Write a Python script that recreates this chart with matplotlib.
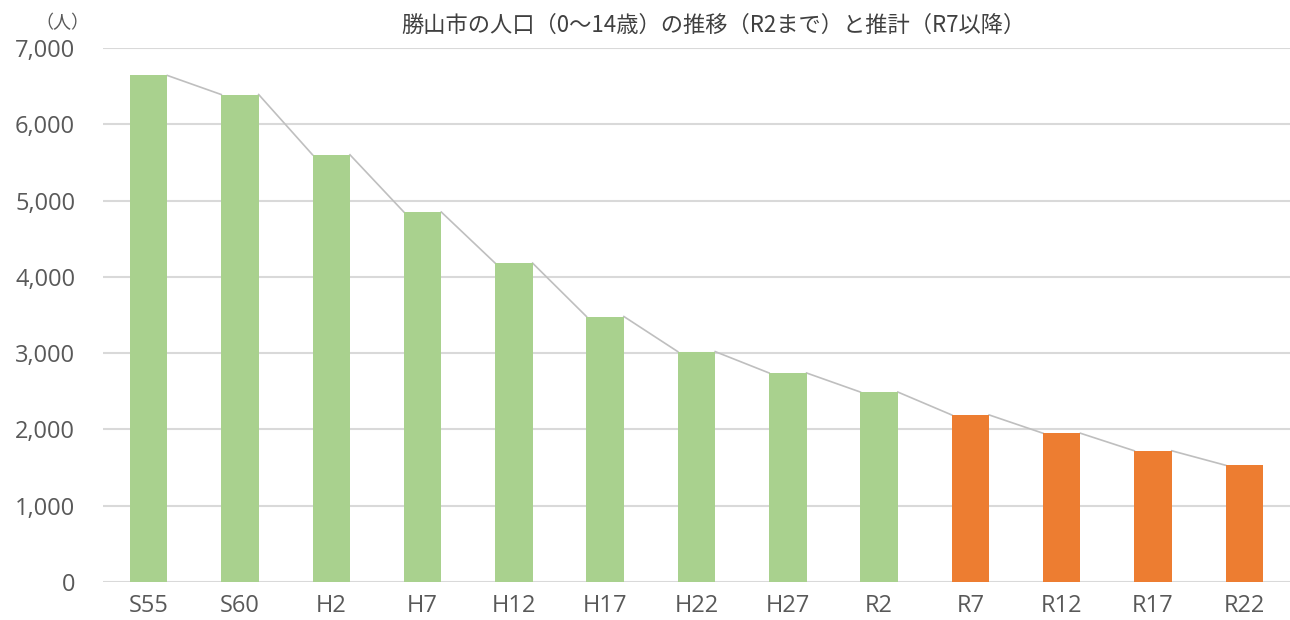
import matplotlib
matplotlib.use('Agg')
import matplotlib.pyplot as plt
import numpy as np

# 日本語フォント
plt.rcParams['font.family'] = ['Noto Sans CJK JP', 'DejaVu Sans']

# データ
years = ["S55", "S60", "H2", "H7", "H12", "H17", "H22", "H27", "R2",
         "R7", "R12", "R17", "R22"]
population = [6640, 6390, 5600, 4850, 4180, 3480, 3020, 2740, 2490,
              2190, 1950, 1720, 1530]
is_estimate = [False] * 9 + [True] * 4

green = '#A9D18E'
orange = '#ED7D31'
text_color = '#595959'
bar_w = 0.41

fig = plt.figure(figsize=(12.9, 6.2), dpi=100)
ax = fig.add_axes([103 / 1290, 1 - 582 / 620, (1290 - 103) / 1290, (582 - 48) / 620])

x = np.arange(len(years))
colors = [orange if e else green for e in is_estimate]
ax.bar(x, population, width=bar_w, color=colors, zorder=3)

# 棒の上端をつなぐ区分線
for i in range(len(x) - 1):
    ax.plot([x[i] + bar_w / 2, x[i + 1] - bar_w / 2],
            [population[i], population[i + 1]],
            color='#BFBFBF', linewidth=1.2, zorder=2)

ax.set_xlim(-0.5, len(years) - 0.5)
ax.set_ylim(0, 7000)
ax.set_yticks(range(0, 7001, 1000))
ax.set_yticklabels([f"{v:,}" for v in range(0, 7001, 1000)])
ax.set_xticks(x)
ax.set_xticklabels(years)
ax.grid(axis='y', color='#D9D9D9', linewidth=1.5, zorder=0)
ax.set_axisbelow(True)
for s in ax.spines.values():
    s.set_visible(False)
ax.tick_params(axis='both', length=0, labelsize=17, colors=text_color)
ax.tick_params(axis='y', pad=20)
ax.tick_params(axis='x', pad=9)
for lbl in ax.get_xticklabels() + ax.get_yticklabels():
    lbl.set_family(['Open Sans', 'DejaVu Sans'])

fig.text(62 / 1290, 1 - 23 / 620, "（人）", ha='center', va='center',
         fontsize=13, color=text_color)
fig.text(713 / 1290, 1 - 25 / 620,
         "勝山市の人口（0〜14歳）の推移（R2まで）と推計（R7以降）",
         ha='center', va='center', fontsize=16, color='#404040')

fig.savefig('out.png', dpi=100)
